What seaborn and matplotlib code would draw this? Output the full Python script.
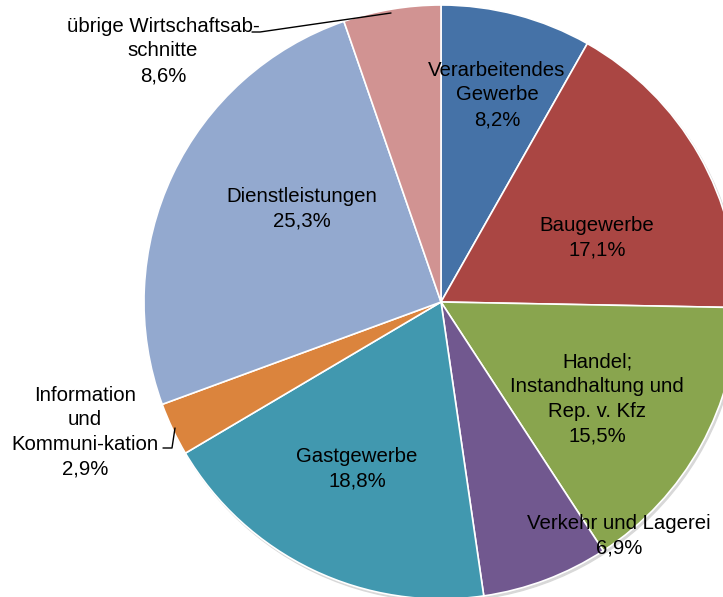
import matplotlib
matplotlib.use("Agg")
import matplotlib.pyplot as plt
import seaborn as sns

# sectors, clockwise from 12 o'clock
sectors = ["Verarbeitendes\nGewerbe", "Baugewerbe", "Handel;\nInstandhaltung und\nRep. v. Kfz",
           "Verkehr und Lagerei", "Gastgewerbe", "Information\nund\nKommuni-kation",
           "Dienstleistungen", "übrige Wirtschaftsab-\nschnitte"]
# printed percentages
pct_labels = ["8,2%", "17,1%", "15,5%", "6,9%", "18,8%", "2,9%", "25,3%", "8,6%"]
# slice sizes as drawn
shares = [8.2, 17.1, 15.5, 6.9, 18.8, 2.9, 25.3, 5.3]
colors = ["#4572A7", "#AA4643", "#89A54E", "#71588F", "#4198AF", "#DB843D", "#93A9CF", "#D19392"]

sns.set_style("white")
plt.rcParams['font.family'] = ['Liberation Sans', 'DejaVu Sans']

W, H = 723, 597
fig = plt.figure(figsize=(W / 100, H / 100), dpi=100)
ax = fig.add_axes([0, 0, 1, 1])

# pie centre (441, 302) px, radius 297 px
cx, cy, R = 441, 302, 297

# soft shadow
shadow = plt.Circle((0.006, -0.008), 1.0, color='#d8d8d8', zorder=0)
ax.add_patch(shadow)
ax.pie(shares, colors=colors, startangle=90, counterclock=False, radius=1.0,
       wedgeprops=dict(edgecolor='white', linewidth=1.2), frame=True)
ax.set_aspect('auto')
ax.set_xlim(-cx / R, (W - cx) / R)
ax.set_ylim(-(H - cy) / R, cy / R)
ax.axis('off')

# label centres in pixels
label_pos = [(497, 95), (597, 238), (597, 399), (619, 536), (357, 469), (85, 432), (302, 209), (163, 51)]
for name, pct, (px, py) in zip(sectors, pct_labels, label_pos):
    fig.text(px / W, 1 - py / H, name + "\n" + pct, ha='center', va='center',
             fontsize=14.7, linespacing=1.37, color='black')

# leader lines
fig.add_artist(plt.Line2D([252 / W, 260 / W, 391 / W], [1 - 32 / H, 1 - 32 / H, 1 - 13 / H],
                          color='black', lw=1))
fig.add_artist(plt.Line2D([163 / W, 172 / W, 175 / W], [1 - 448 / H, 1 - 448 / H, 1 - 428 / H],
                          color='black', lw=1))

fig.savefig("out.png", dpi=100)
